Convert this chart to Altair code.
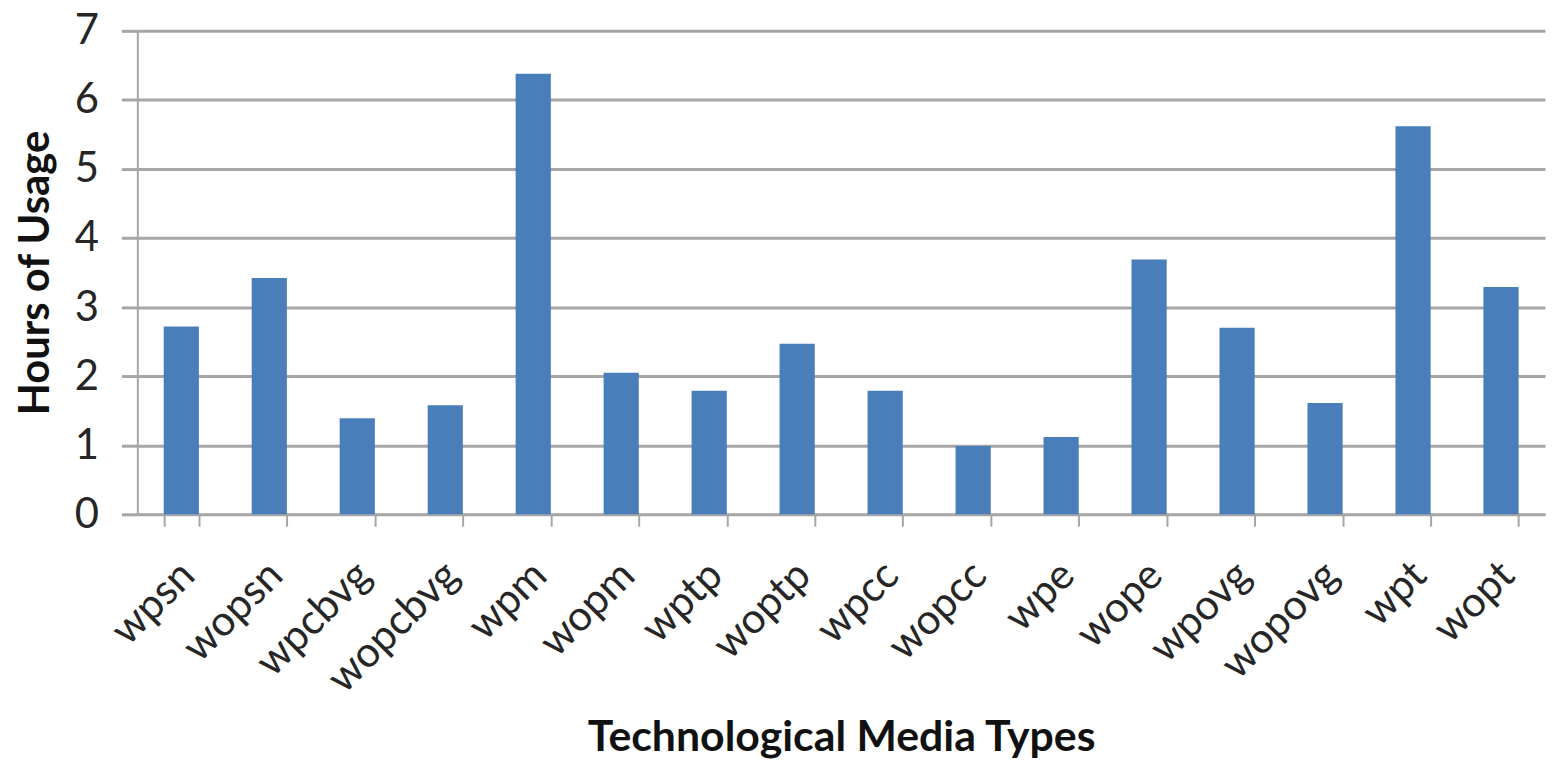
import altair as alt
import pandas as pd

categories = ["wpsn", "wopsn", "wpcbvg", "wopcbvg", "wpm", "wopm", "wptp", "woptp",
              "wpcc", "wopcc", "wpe", "wope", "wpovg", "wopovg", "wpt", "wopt"]
hours = [2.72, 3.42, 1.39, 1.58, 6.38, 2.05, 1.79, 2.47,
         1.79, 0.99, 1.12, 3.69, 2.70, 1.61, 5.62, 3.29]
y_ticks = [0, 1, 2, 3, 4, 5, 6, 7]

df = pd.DataFrame({"type": categories, "hours": hours})

FONT = "Lato"
TEXT = "#262626"
GRID = "#a6a6a6"

chart = alt.Chart(df).mark_bar(color="#4a7ebb").encode(
    x=alt.X("type:N", sort=categories,
            scale=alt.Scale(paddingInner=0.6, paddingOuter=0.3),
            axis=alt.Axis(title="Technological Media Types", labelAngle=-45,
                          labelFontSize=42, labelFont=FONT, labelColor=TEXT,
                          labelPadding=28, labelOffset=-8,
                          titleFont=FONT, titleFontSize=43, titleFontWeight="bold",
                          titleColor="#111111", titleY=237, titleBaseline="alphabetic",
                          tickBand="extent", tickSize=12, tickColor=GRID, tickWidth=2,
                          domainColor=GRID, domainWidth=2, grid=False)),
    y=alt.Y("hours:Q", scale=alt.Scale(domain=[0, 7], nice=False),
            axis=alt.Axis(title="Hours of Usage", values=y_ticks, format="d",
                          labelFontSize=42, labelFont=FONT, labelColor=TEXT,
                          labelPadding=23,
                          titleFont=FONT, titleFontSize=42, titleFontWeight="bold",
                          titleColor="#111111", titleX=-102, titleBaseline="middle",
                          tickSize=16, tickColor=GRID, tickWidth=3,
                          gridColor=GRID, gridWidth=3,
                          domainColor=GRID, domainWidth=2)),
).properties(
    width=1415, height=486,
    autosize=alt.AutoSizeParams(type="none"),
    padding={"left": 130, "top": 21, "right": 2, "bottom": 246},
).configure_view(stroke=None)

chart.save("out.html", embed_options={"renderer": "svg", "actions": False})
